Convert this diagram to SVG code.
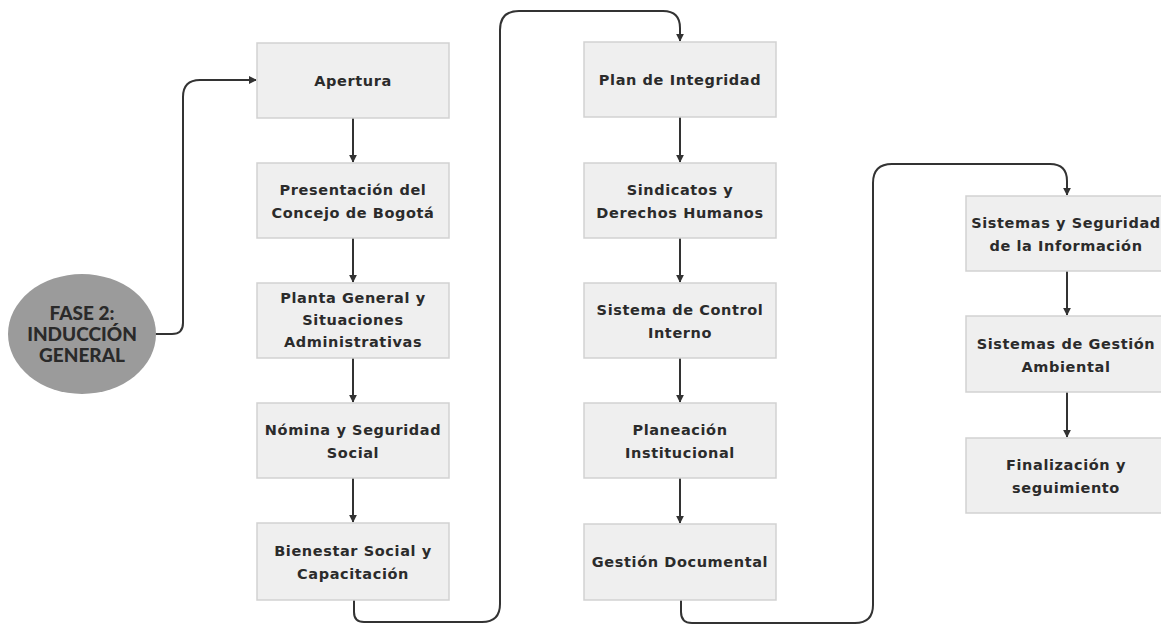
<svg xmlns="http://www.w3.org/2000/svg" width="1161" height="625" viewBox="0 0 1161 625">
<style>
.box{fill:#efefef;stroke:#d2d2d2;stroke-width:1.5}
.t{font-family:"DejaVu Sans","Open Sans",sans-serif;font-weight:700;font-size:14.5px;letter-spacing:0.6px;fill:#2b2b2b;text-anchor:middle}
.ct{font-family:Lato,"DejaVu Sans",sans-serif;font-weight:900;font-size:19px;fill:#2a2a2a;text-anchor:middle}
.c{fill:none;stroke:#333;stroke-width:2}
</style>
<defs>
<marker id="ah" viewBox="0 0 10 10" refX="9" refY="5" markerWidth="8" markerHeight="8" orient="auto" markerUnits="userSpaceOnUse">
<path d="M0,0 L10,5 L0,10 z" fill="#333"/>
</marker>
</defs>
<rect width="1161" height="625" fill="#ffffff"/>
<g id="connectors">
<path class="c" d="M155,334 H172 Q183,334 183,323 V97 Q183,80 200,80 H256" marker-end="url(#ah)"/>
<path class="c" d="M353,118 V162" marker-end="url(#ah)"/>
<path class="c" d="M353,238 V282" marker-end="url(#ah)"/>
<path class="c" d="M353,358 V402" marker-end="url(#ah)"/>
<path class="c" d="M353,478 V522" marker-end="url(#ah)"/>
<path class="c" d="M354,600 V612 Q354,622 364,622 H482 Q500,622 500,604 V30 Q500,11 519,11 H663 Q680,11 680,28 V41" marker-end="url(#ah)"/>
<path class="c" d="M680,117 V162" marker-end="url(#ah)"/>
<path class="c" d="M680,238 V282" marker-end="url(#ah)"/>
<path class="c" d="M680,358 V402" marker-end="url(#ah)"/>
<path class="c" d="M680,478 V523" marker-end="url(#ah)"/>
<path class="c" d="M681,600 V612 Q681,623 692,623 H855 Q873,623 873,605 V183 Q873,164 892,164 H1050 Q1067,164 1067,181 V195" marker-end="url(#ah)"/>
<path class="c" d="M1067,271 V315" marker-end="url(#ah)"/>
<path class="c" d="M1067,392 V437" marker-end="url(#ah)"/>
</g>
<g id="fase2">
<ellipse cx="82" cy="334" rx="74" ry="60" fill="#9b9b9b"/>
<text class="ct" x="82" y="320">FASE 2:</text>
<text class="ct" x="82" y="341">INDUCCIÓN</text>
<text class="ct" x="82" y="362">GENERAL</text>
</g>
<g id="apertura">
<rect class="box" x="257" y="43" width="192" height="75"/>
<text class="t" x="353" y="86">Apertura</text>
</g>
<g id="presentacion">
<rect class="box" x="257" y="163" width="192" height="75"/>
<text class="t" x="353" y="195">Presentación del</text>
<text class="t" x="353" y="218">Concejo de Bogotá</text>
</g>
<g id="planta">
<rect class="box" x="257" y="283" width="192" height="75"/>
<text class="t" x="353" y="303">Planta General y</text>
<text class="t" x="353" y="325">Situaciones</text>
<text class="t" x="353" y="347">Administrativas</text>
</g>
<g id="nomina">
<rect class="box" x="257" y="403" width="192" height="75"/>
<text class="t" x="353" y="435">Nómina y Seguridad</text>
<text class="t" x="353" y="458">Social</text>
</g>
<g id="bienestar">
<rect class="box" x="257" y="523" width="192" height="77"/>
<text class="t" x="353" y="556">Bienestar Social y</text>
<text class="t" x="353" y="579">Capacitación</text>
</g>
<g id="integridad">
<rect class="box" x="584" y="42" width="192" height="75"/>
<text class="t" x="680" y="85">Plan de Integridad</text>
</g>
<g id="sindicatos">
<rect class="box" x="584" y="163" width="192" height="75"/>
<text class="t" x="680" y="195">Sindicatos y</text>
<text class="t" x="680" y="218">Derechos Humanos</text>
</g>
<g id="control">
<rect class="box" x="584" y="283" width="192" height="75"/>
<text class="t" x="680" y="315">Sistema de Control</text>
<text class="t" x="680" y="338">Interno</text>
</g>
<g id="planeacion">
<rect class="box" x="584" y="403" width="192" height="75"/>
<text class="t" x="680" y="435">Planeación</text>
<text class="t" x="680" y="458">Institucional</text>
</g>
<g id="gestion-documental">
<rect class="box" x="584" y="524" width="192" height="76"/>
<text class="t" x="680" y="567">Gestión Documental</text>
</g>
<g id="sistemas-seguridad">
<rect class="box" x="966" y="196" width="200" height="75"/>
<text class="t" x="1066" y="228">Sistemas y Seguridad</text>
<text class="t" x="1066" y="251">de la Información</text>
</g>
<g id="gestion-ambiental">
<rect class="box" x="966" y="316" width="200" height="76"/>
<text class="t" x="1066" y="349">Sistemas de Gestión</text>
<text class="t" x="1066" y="372">Ambiental</text>
</g>
<g id="finalizacion">
<rect class="box" x="966" y="438" width="200" height="75"/>
<text class="t" x="1066" y="470">Finalización y</text>
<text class="t" x="1066" y="493">seguimiento</text>
</g>
</svg>
